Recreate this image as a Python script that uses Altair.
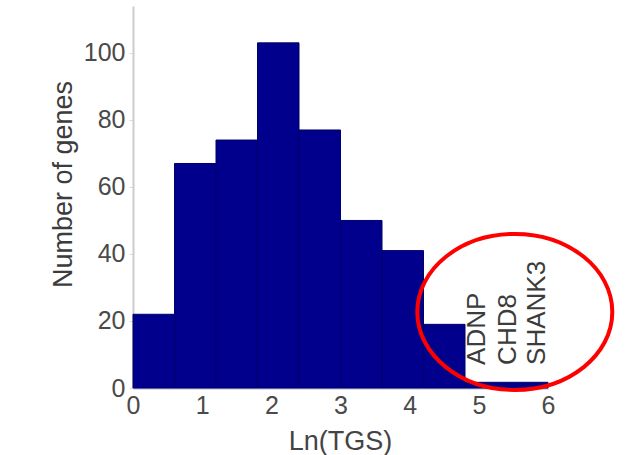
import altair as alt
import pandas as pd

bin_start = [0.0, 0.6, 1.2, 1.8, 2.4, 3.0, 3.6, 4.2, 4.8, 5.4]
bin_end = [0.6, 1.2, 1.8, 2.4, 3.0, 3.6, 4.2, 4.8, 5.4, 6.0]
counts = [22, 67, 74, 103, 77, 50, 41, 19, 1.7, 1.7]

genes = ["ADNP", "CHD8", "SHANK3"]
gene_x = [4.97, 5.42, 5.84]
gene_y = [6.9, 6.9, 6.9]

ellipse_x = [5.52]
ellipse_y = [22.7]

bars = pd.DataFrame({"start": bin_start, "end": bin_end, "count": counts})
labels = pd.DataFrame({"gene": genes, "x": gene_x, "y": gene_y})
ell = pd.DataFrame({"x": ellipse_x, "y": ellipse_y})

FONT = "Liberation Sans"

xscale = alt.Scale(domain=[0, 6], nice=False, zero=False)
yscale = alt.Scale(domain=[0, 114], nice=False)

xaxis = alt.Axis(values=[0, 1, 2, 3, 4, 5, 6], format="d", title="Ln(TGS)", grid=False,
                 tickSize=0, labelPadding=5, labelFontSize=25, labelColor="#4a4a4a",
                 labelFont=FONT, titleFont=FONT, titleFontSize=27, titleFontWeight="normal",
                 titleColor="#444444", titleBaseline="middle", titleAlign="center",
                 titleX=207, titleY=53, domainColor="#b8bcd8", domainWidth=2,
                 labelFlush=False)
yaxis = alt.Axis(values=[0, 20, 40, 60, 80, 100], format="d", title="Number of genes", grid=False,
                 tickSize=4, tickColor="#dddddd", labelPadding=4, labelFontSize=25,
                 labelColor="#4a4a4a", labelFont=FONT, titleFont=FONT, titleFontSize=27,
                 titleFontWeight="normal", titleColor="#3c3c3c", titleAngle=270,
                 titleBaseline="middle", titleAlign="center", titleX=-70, titleY=178,
                 domainColor="#cccccc", domainWidth=2, labelFlush=False)

hist = alt.Chart(bars).mark_rect(color="#00008c", stroke="#00006a", strokeWidth=1).encode(
    x=alt.X("start:Q", scale=xscale, axis=xaxis),
    x2="end:Q",
    y=alt.Y("count:Q", scale=yscale, axis=yaxis),
    y2=alt.datum(0),
)

txt = alt.Chart(labels).mark_text(angle=270, align="left", baseline="middle",
                                  font=FONT, fontSize=26, color="#3c3c3c").encode(
    x=alt.X("x:Q", scale=xscale),
    y=alt.Y("y:Q", scale=yscale),
    text="gene:N",
)

ellipse = alt.Chart(ell).mark_point(
    shape="M -1 0 A 1 0.8 0 1 1 1 0 A 1 0.8 0 1 1 -1 0 Z",
    size=195 * 195, filled=False, stroke="#ff0000", strokeWidth=4, opacity=1,
).encode(
    x=alt.X("x:Q", scale=xscale),
    y=alt.Y("y:Q", scale=yscale),
)

chart = alt.layer(hist, txt, ellipse).properties(
    width=415, height=382,
    autosize=alt.AutoSizeParams(type="none"),
    padding={"left": 133, "top": 6, "right": 80, "bottom": 67},
).configure(background="white").configure_view(stroke=None)

chart.save("out.html", embed_options={"renderer": "svg", "actions": False})
